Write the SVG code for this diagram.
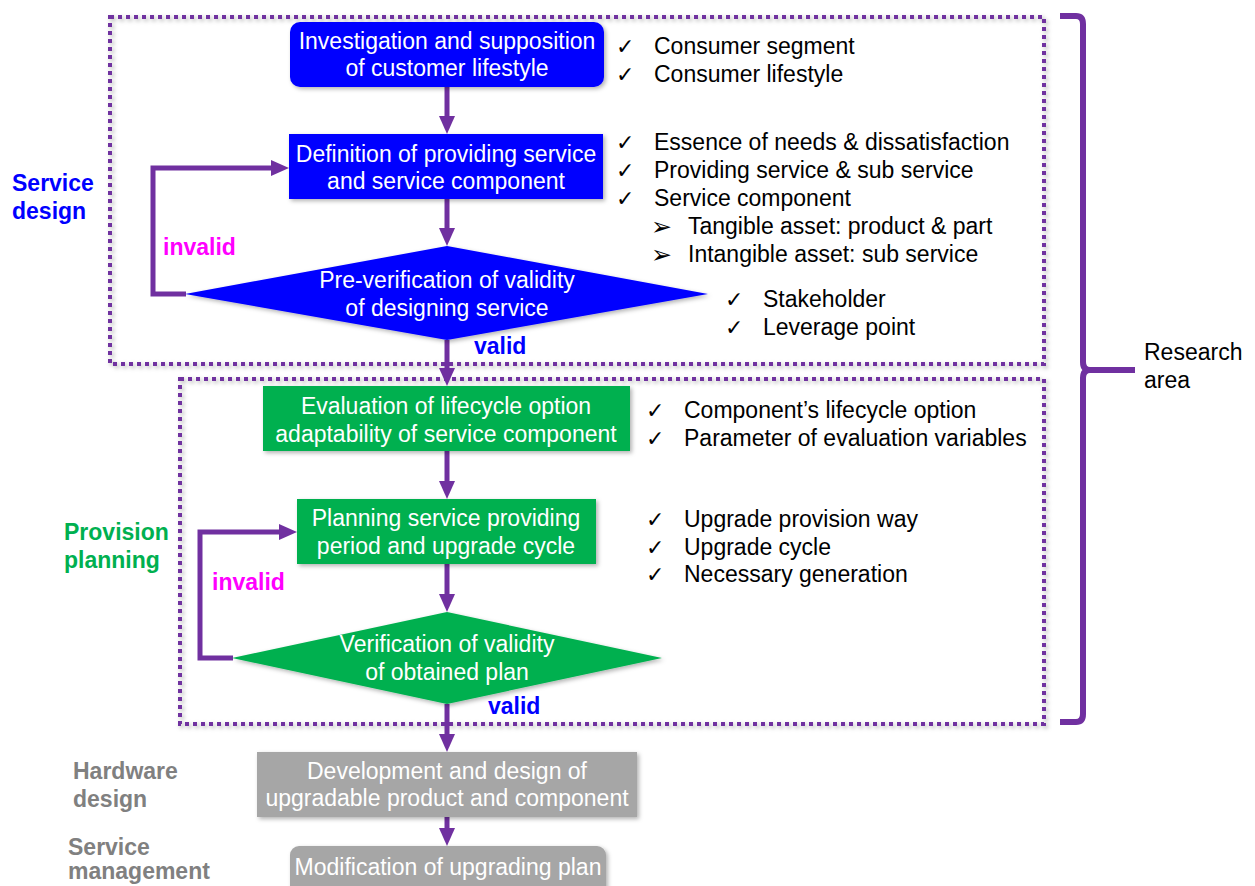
<svg xmlns="http://www.w3.org/2000/svg" width="1255" height="886" viewBox="0 0 1255 886">
<style>
text{font-family:"Liberation Sans",Arial,sans-serif;font-size:23px}
.w{fill:#fff;text-anchor:middle}
.k{fill:#000}
.chk{font-family:"DejaVu Sans",sans-serif;font-size:22px;fill:#000}
.arr{font-family:"DejaVu Sans",sans-serif;font-size:25px;fill:#000}
.b{font-weight:bold}
.area{fill:none;stroke:#7030A0;stroke-width:4;stroke-dasharray:4 4;filter:url(#sh)}
.con{fill:none;stroke:#7030A0;stroke-width:5}
.blue{fill:#0000FF;filter:url(#sh)}
.green{fill:#00B050;filter:url(#sh)}
.gray{fill:#A6A6A6;filter:url(#sh)}
</style>
<defs>
<filter id="sh" x="-10%" y="-10%" width="120%" height="130%">
<feDropShadow dx="2" dy="2" stdDeviation="2" flood-color="#000" flood-opacity="0.3"/>
</filter>
<marker id="ah" viewBox="0 0 18 16" markerWidth="18" markerHeight="16" refX="6" refY="8" orient="auto" markerUnits="userSpaceOnUse">
<path d="M0,0 L18,8 L0,16 z" fill="#7030A0"/>
</marker>
</defs>
<rect width="1255" height="886" fill="#fff"/>

<g id="areas">
<rect class="area" x="110" y="17" width="934" height="347"/>
<rect class="area" x="180" y="379" width="864" height="345"/>
<path d="M1060,16 H1076 Q1083,16 1083,24 V362 Q1083,370 1090,370 H1135 M1090,370 Q1083,370 1083,378 V714 Q1083,722 1076,722 H1060" fill="none" stroke="#7030A0" stroke-width="6"/>
<text class="k" x="1144" y="360">Research</text>
<text class="k" x="1144" y="388">area</text>
</g>

<g id="labels">
<text class="b" x="12" y="191" fill="#0000FF">Service</text>
<text class="b" x="12" y="219" fill="#0000FF">design</text>
<text class="b" x="64" y="540" fill="#00B050">Provision</text>
<text class="b" x="64" y="568" fill="#00B050">planning</text>
<text class="b" x="73" y="779" fill="#808080">Hardware</text>
<text class="b" x="73" y="807" fill="#808080">design</text>
<text class="b" x="68" y="855" fill="#808080">Service</text>
<text class="b" x="68" y="879" fill="#808080">management</text>
</g>

<g id="connectors">
<line class="con" x1="447" y1="87" x2="447" y2="122" marker-end="url(#ah)"/>
<line class="con" x1="447" y1="199" x2="447" y2="234" marker-end="url(#ah)"/>
<line class="con" x1="447" y1="340" x2="447" y2="374" marker-end="url(#ah)"/>
<line class="con" x1="447" y1="451" x2="447" y2="487" marker-end="url(#ah)"/>
<line class="con" x1="447" y1="564" x2="447" y2="600" marker-end="url(#ah)"/>
<line class="con" x1="447" y1="704" x2="447" y2="740" marker-end="url(#ah)"/>
<line class="con" x1="447" y1="817" x2="447" y2="834" marker-end="url(#ah)"/>
<path class="con" d="M186,294 H153 V168 H277" marker-end="url(#ah)"/>
<path class="con" d="M233,658 H200 V532 H285" marker-end="url(#ah)"/>
<text class="b" x="163" y="255" fill="#FF00FF">invalid</text>
<text class="b" x="474" y="354" fill="#0000FF">valid</text>
<text class="b" x="212" y="590" fill="#FF00FF">invalid</text>
<text class="b" x="488" y="714" fill="#0000FF">valid</text>
</g>

<g id="n1">
<rect class="blue" x="290" y="22" width="314" height="65" rx="10"/>
<text class="w" x="447" y="49">Investigation and supposition</text>
<text class="w" x="447" y="76">of customer lifestyle</text>
</g>
<g id="n2">
<rect class="blue" x="289" y="134" width="314" height="65"/>
<text class="w" x="446" y="162">Definition of providing service</text>
<text class="w" x="446" y="189">and service component</text>
</g>
<g id="n3">
<polygon class="blue" points="447,246 708,294 447,340 185,294"/>
<text class="w" x="447" y="288">Pre-verification of validity</text>
<text class="w" x="447" y="316">of designing service</text>
</g>
<g id="n4">
<rect class="green" x="263" y="386" width="367" height="65"/>
<text class="w" x="446" y="414">Evaluation of lifecycle option</text>
<text class="w" x="446" y="442">adaptability of service component</text>
</g>
<g id="n5">
<rect class="green" x="297" y="499" width="299" height="65"/>
<text class="w" x="446" y="526">Planning service providing</text>
<text class="w" x="446" y="554">period and upgrade cycle</text>
</g>
<g id="n6">
<polygon class="green" points="447,612 662,658 447,704 232,658"/>
<text class="w" x="447" y="652">Verification of validity</text>
<text class="w" x="447" y="680">of obtained plan</text>
</g>
<g id="n7">
<rect class="gray" x="257" y="752" width="380" height="65"/>
<text class="w" x="447" y="779">Development and design of</text>
<text class="w" x="447" y="806">upgradable product and component</text>
</g>
<g id="n8">
<rect class="gray" x="290" y="846" width="316" height="50" rx="9"/>
<text class="w" x="448" y="875">Modification of upgrading plan</text>
</g>

<g id="notes">
<text class="chk" x="616" y="54">✓</text>
<text class="k" x="654" y="54">Consumer segment</text>
<text class="chk" x="616" y="82">✓</text>
<text class="k" x="654" y="82">Consumer lifestyle</text>
<text class="chk" x="616" y="150">✓</text>
<text class="k" x="654" y="150">Essence of needs &amp; dissatisfaction</text>
<text class="chk" x="616" y="178">✓</text>
<text class="k" x="654" y="178">Providing service &amp; sub service</text>
<text class="chk" x="616" y="206">✓</text>
<text class="k" x="654" y="206">Service component</text>
<text class="arr" x="651" y="235">➢</text>
<text class="k" x="688" y="234">Tangible asset: product &amp; part</text>
<text class="arr" x="651" y="263">➢</text>
<text class="k" x="688" y="262">Intangible asset: sub service</text>
<text class="chk" x="725" y="307">✓</text>
<text class="k" x="763" y="307">Stakeholder</text>
<text class="chk" x="725" y="335">✓</text>
<text class="k" x="763" y="335">Leverage point</text>
<text class="chk" x="646" y="418">✓</text>
<text class="k" x="684" y="418">Component’s lifecycle option</text>
<text class="chk" x="646" y="446">✓</text>
<text class="k" x="684" y="446">Parameter of evaluation variables</text>
<text class="chk" x="646" y="527">✓</text>
<text class="k" x="684" y="527">Upgrade provision way</text>
<text class="chk" x="646" y="555">✓</text>
<text class="k" x="684" y="555">Upgrade cycle</text>
<text class="chk" x="646" y="582">✓</text>
<text class="k" x="684" y="582">Necessary generation</text>
</g>
</svg>
